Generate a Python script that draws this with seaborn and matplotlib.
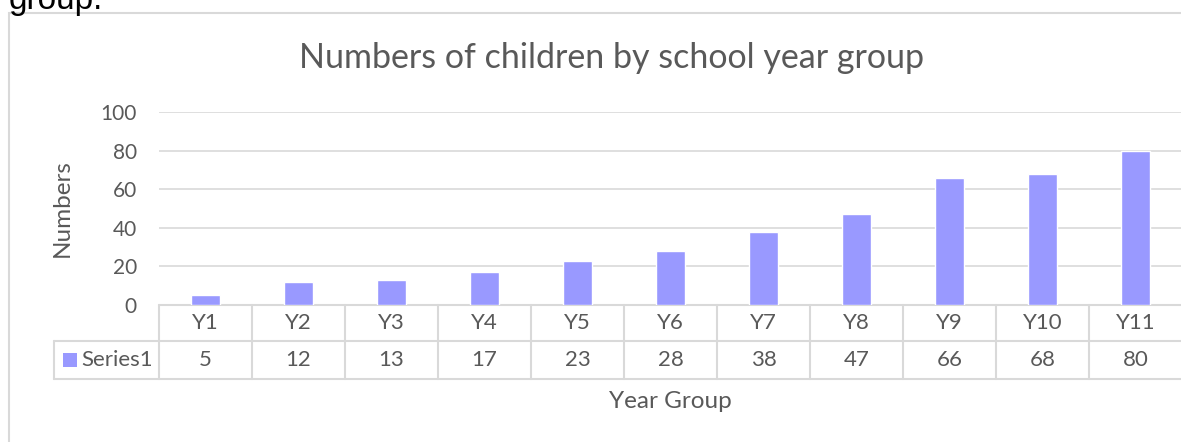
import matplotlib
matplotlib.use("Agg")
import matplotlib.pyplot as plt
import seaborn as sns
import pandas as pd
from matplotlib.patches import Rectangle
from matplotlib.lines import Line2D

# chart data
year_groups = ["Y1", "Y2", "Y3", "Y4", "Y5", "Y6", "Y7", "Y8", "Y9", "Y10", "Y11"]
numbers = [5, 12, 13, 17, 23, 28, 38, 47, 66, 68, 80]
series_name = "Series1"
y_ticks = [0, 20, 40, 60, 80, 100]

df = pd.DataFrame({"year": year_groups, "count": numbers})

sns.set_style("white")
plt.rcParams["font.family"] = ["Lato", "DejaVu Sans"]

W, H = 1181, 442
fig = plt.figure(figsize=(W / 100, H / 100), dpi=100)

grey = "#D9D9D9"
txt = "#595959"
bar_col = "#9999FF"
tick_fs = 15
table_fs = 16
axis_fs = 17.5

# plot area in pixels
left, right, top, bottom = 159, 1182, 112, 305
ax = fig.add_axes([left / W, 1 - bottom / H, (right - left) / W, (bottom - top) / H])

sns.barplot(data=df, x="year", y="count", color=bar_col, saturation=1,
            width=0.31, ax=ax, zorder=3)
ax.set_ylim(0, 100)
ax.set_xlim(-0.5, len(year_groups) - 0.5)
ax.set_yticks(y_ticks)
ax.set_yticklabels([str(t) for t in y_ticks], fontsize=tick_fs, color=txt)
ax.tick_params(axis="y", length=0, pad=16)
ax.set_xticks([])
ax.set_xlabel("")
ax.set_ylabel("")
for s in ax.spines.values():
    s.set_visible(False)
for t in y_ticks[1:]:
    ax.axhline(t, color=grey, lw=1.2, zorder=1)

# data table under the axis
plot_h = bottom - top
row1 = -36 / plot_h
row2 = -74 / plot_h
xt = ax.get_xaxis_transform()
n = len(year_groups)
ax.add_line(Line2D([-0.5, n - 0.5], [0, 0], transform=xt, color=grey, lw=1.5, clip_on=False))
label_left = (54 - left) / (right - left)
for yy in (row1, row2):
    ax.add_line(Line2D([label_left, 1], [yy, yy], transform=ax.transAxes,
                       color=grey, lw=1.5, clip_on=False))
ax.add_line(Line2D([label_left, label_left], [row1, row2], transform=ax.transAxes,
                   color=grey, lw=1.5, clip_on=False))
for i in range(n + 1):
    ax.add_line(Line2D([i - 0.5, i - 0.5], [0, row2], transform=xt,
                       color=grey, lw=1.5, clip_on=False))
for i, (yg, v) in enumerate(zip(year_groups, numbers)):
    ax.text(i, row1 / 2, yg, transform=xt, ha="center", va="center",
            fontsize=table_fs, color=txt, clip_on=False)
    ax.text(i, (row1 + row2) / 2, str(v), transform=xt, ha="center", va="center",
            fontsize=table_fs, color=txt, clip_on=False)

# legend key in table
key_x = (63 - left) / (right - left)
key_w = 14 / (right - left)
key_h = 14 / plot_h
key_y = (row1 + row2) / 2 - key_h / 2
ax.add_patch(Rectangle((key_x, key_y), key_w, key_h, transform=ax.transAxes,
                       facecolor=bar_col, edgecolor="none", clip_on=False))
ax.text((81 - left) / (right - left), (row1 + row2) / 2, series_name,
        transform=ax.transAxes, ha="left", va="center", fontsize=table_fs, color=txt)

# titles
fig.text(612 / W, 1 - 58 / H, "Numbers of children by school year group",
         ha="center", va="center", fontsize=24.5, color=txt)
fig.text(670 / W, 1 - 402 / H, "Year Group", ha="center", va="center",
         fontsize=axis_fs, color=txt)
fig.text(62 / W, 1 - 208 / H, "Numbers", ha="center", va="center",
         rotation=90, fontsize=axis_fs, color=txt)

# chart border and clipped text above it
fig.add_artist(Rectangle((9 / W, -0.1), 1.2, 1 - 13 / H + 0.1, transform=fig.transFigure,
                         facecolor="none", edgecolor=grey, lw=1.5))
fig.text(9 / W, 1 - 9 / H, "group.", ha="left", va="baseline",
         fontsize=24, color="black", family=["Liberation Sans", "DejaVu Sans"])

fig.savefig("out.png", dpi=100)
